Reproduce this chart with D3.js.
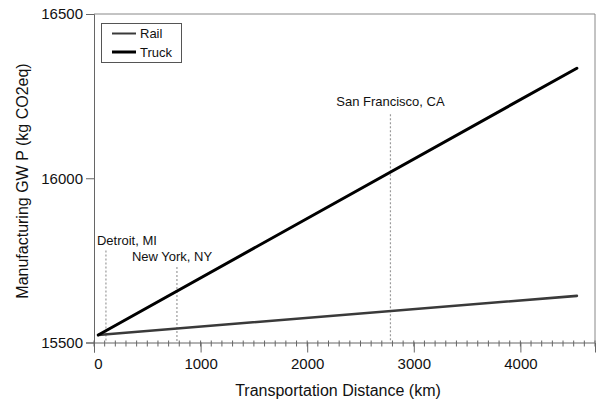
<!DOCTYPE html>
<html>
<head>
<meta charset="utf-8">
<script src="https://cdn.jsdelivr.net/npm/d3@7"></script>
<style>
  body { margin: 0; background: #fff; }
  text { font-family: "Liberation Sans", Arial, sans-serif; fill: #111; }
</style>
</head>
<body>
<svg id="chart" width="596" height="403"></svg>
<script>
// chart data
var distance = [40, 4530];
var rail = [15523, 15642];
var truck = [15523, 16335];
var cities = ["Detroit, MI", "New York, NY", "San Francisco, CA"];
var cityKm = [112, 778, 2781];
var cityTop = [15780, 15730, 16195];
var yTicks = [15500, 16000, 16500];
var xTicks = [0, 1000, 2000, 3000, 4000];

var svg = d3.select("#chart");

var x = d3.scaleLinear().domain([0, 4700]).range([94, 595]);
var y = d3.scaleLinear().domain([15500, 16500]).range([342.5, 14]);

// frame (top + right)
svg.append("path")
  .attr("d", "M" + x(0) + "," + y(16500) + "H" + x(4700) + "V" + y(15500))
  .attr("fill", "none")
  .attr("stroke", "#888")
  .attr("stroke-width", 1);

// y axis
var yAxis = svg.append("g")
  .attr("transform", "translate(" + x(0) + ",0)")
  .call(d3.axisLeft(y).tickValues(yTicks).tickSize(8).tickPadding(3).tickFormat(d3.format("d")));
yAxis.select(".domain").attr("stroke", "#666");
yAxis.selectAll(".tick line").attr("stroke", "#666");
yAxis.selectAll("text").style("font-size", "15px").attr("fill", "#111");

// x axis, minor ticks every 100 km
var minor = d3.range(0, 4701, 100);
svg.append("g")
  .attr("transform", "translate(0," + y(15500) + ")")
  .selectAll("line").data(minor).enter().append("line")
  .attr("x1", function(d) { return x(d); })
  .attr("x2", function(d) { return x(d); })
  .attr("y1", -2)
  .attr("y2", 4)
  .attr("stroke", "#666");

var xAxis = svg.append("g")
  .attr("transform", "translate(0," + y(15500) + ")")
  .call(d3.axisBottom(x).tickValues(xTicks).tickSize(10).tickPadding(6).tickFormat(d3.format("d")));
xAxis.select(".domain").attr("stroke", "#666");
xAxis.selectAll(".tick line").attr("stroke", "#666");
xAxis.selectAll("text").style("font-size", "15px").attr("fill", "#111");
xAxis.select(".tick text").attr("dx", 4);

// city markers
var city = svg.append("g");
cities.forEach(function(c, i) {
  city.append("line")
    .attr("x1", x(cityKm[i])).attr("x2", x(cityKm[i]))
    .attr("y1", y(cityTop[i])).attr("y2", y(15500))
    .attr("stroke", "#9a9a9a")
    .attr("stroke-width", 1.2)
    .attr("stroke-dasharray", "2,2");
});
city.append("text").attr("x", x(cityKm[0]) - 9).attr("y", y(cityTop[0]) - 6)
  .style("font-size", "13px").text(cities[0]);
city.append("text").attr("x", x(cityKm[1]) - 45).attr("y", y(cityTop[1]) - 6)
  .style("font-size", "13px").text(cities[1]);
city.append("text").attr("x", x(cityKm[2])).attr("y", y(cityTop[2]) - 8)
  .attr("text-anchor", "middle")
  .style("font-size", "13px").text(cities[2]);

// lines
var line = d3.line()
  .x(function(d, i) { return x(distance[i]); })
  .y(function(d) { return y(d); });

svg.append("path").datum(rail)
  .attr("d", line)
  .attr("fill", "none")
  .attr("stroke", "#3a3a3a")
  .attr("stroke-width", 2.6)
  .attr("stroke-linecap", "round");

svg.append("path").datum(truck)
  .attr("d", line)
  .attr("fill", "none")
  .attr("stroke", "#000")
  .attr("stroke-width", 3)
  .attr("stroke-linecap", "round");

// legend
var legend = svg.append("g");
legend.append("rect")
  .attr("x", 101.5).attr("y", 23.5).attr("width", 80).attr("height", 39)
  .attr("fill", "#fff").attr("stroke", "#555");
var legendItems = [["Rail", "#3a3a3a", 2], ["Truck", "#000", 3]];
legendItems.forEach(function(d, i) {
  var ly = 33.5 + i * 18.5;
  legend.append("line")
    .attr("x1", 112).attr("x2", 136).attr("y1", ly).attr("y2", ly)
    .attr("stroke", d[1]).attr("stroke-width", d[2]);
  legend.append("text")
    .attr("x", 140).attr("y", ly + 4.5)
    .style("font-size", "13px").text(d[0]);
});

// axis titles
svg.append("text")
  .attr("x", 338).attr("y", 396)
  .attr("text-anchor", "middle")
  .style("font-size", "16px")
  .text("Transportation Distance (km)");

svg.append("text")
  .attr("transform", "translate(28,181) rotate(-90)")
  .attr("text-anchor", "middle")
  .style("font-size", "16px")
  .text("Manufacturing GW P (kg CO2eq)");
</script>
</body>
</html>
